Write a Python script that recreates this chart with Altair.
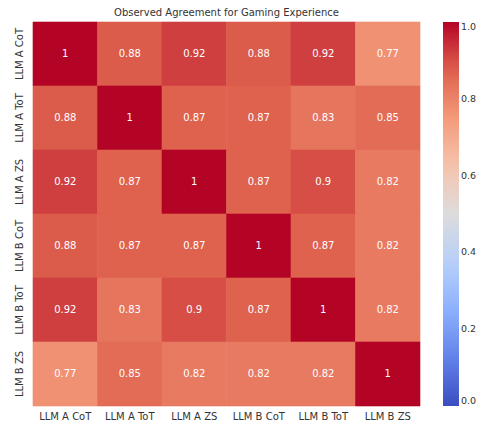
import altair as alt
import pandas as pd

labels = ["LLM A CoT", "LLM A ToT", "LLM A ZS", "LLM B CoT", "LLM B ToT", "LLM B ZS"]
values = [
    [1.00, 0.88, 0.92, 0.88, 0.92, 0.77],
    [0.88, 1.00, 0.87, 0.87, 0.83, 0.85],
    [0.92, 0.87, 1.00, 0.87, 0.90, 0.82],
    [0.88, 0.87, 0.87, 1.00, 0.87, 0.82],
    [0.92, 0.83, 0.90, 0.87, 1.00, 0.82],
    [0.77, 0.85, 0.82, 0.82, 0.82, 1.00],
]
coolwarm = ["#3b4cc0", "#6282ea", "#8db0fe", "#b8d0f9", "#dddcdc",
            "#f5c4ac", "#f49a7b", "#de604d", "#b40426"]

rows = []
for i, r in enumerate(labels):
    for j, c in enumerate(labels):
        v = values[i][j]
        rows.append({"row": r, "col": c, "value": v,
                     "text": "1" if v == 1 else f"{v:g}"})
df = pd.DataFrame(rows)

cscale = alt.Scale(domain=[0, 1], range=coolwarm, interpolate="rgb")

x = alt.X("col:N", sort=labels, title=None,
          axis=alt.Axis(labelAngle=0, domain=False, ticks=False, labelPadding=5,
                        labelFontSize=10, labelColor="#333333", labelFont="DejaVu Sans"))
y = alt.Y("row:N", sort=labels, title=None,
          axis=alt.Axis(labelAngle=-90, domain=False, ticks=False, labelPadding=9,
                        labelFontSize=10, labelColor="#333333", labelFont="DejaVu Sans",
                        labelAlign="center", labelBaseline="bottom"))

heat = alt.Chart(df).mark_rect(
    strokeWidth=0.6, stroke=alt.ExprRef("scale('color', datum.value)")
).encode(
    x=x, y=y,
    color=alt.Color("value:Q", scale=cscale,
                    legend=alt.Legend(title=None,
                                      values=[0, 0.2, 0.4, 0.6, 0.8, 1.0],
                                      format=".1f", gradientLength=384,
                                      gradientThickness=16, offset=23, padding=0,
                                      labelFontSize=9.5, labelColor="#333333",
                                      labelFont="DejaVu Sans", labelOffset=2,
                                      labelBaseline="middle",
                                      gradientStrokeWidth=0)),
)

txt = alt.Chart(df).mark_text(color="white", fontSize=10, font="DejaVu Sans").encode(
    x=alt.X("col:N", sort=labels), y=alt.Y("row:N", sort=labels), text="text:N"
)

chart = (heat + txt).properties(
    width=387, height=384,
    title=alt.Title("Observed Agreement for Gaming Experience", fontSize=10,
                    fontWeight="normal", font="DejaVu Sans", color="#333333", offset=4),
    autosize=alt.AutoSizeParams(type="none"),
    padding={"left": 25, "top": 14, "right": 57, "bottom": 16},
).configure_view(stroke=None).configure_scale(bandPaddingInner=0, bandPaddingOuter=0)

chart.save("out.html", embed_options={"renderer": "svg", "actions": False})
